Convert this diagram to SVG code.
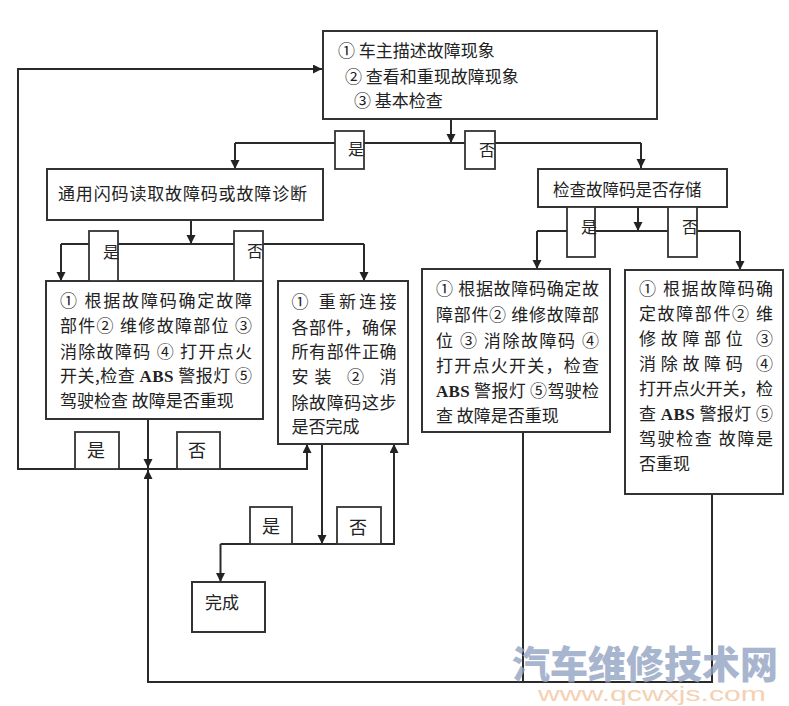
<svg xmlns="http://www.w3.org/2000/svg" width="789" height="706" viewBox="0 0 789 706">
<defs>
<marker id="arr" markerUnits="userSpaceOnUse" markerWidth="10" markerHeight="10" refX="9" refY="4.5" orient="auto">
<path d="M0,0 L9,4.5 L0,9 z" fill="#222"/>
</marker>
</defs>
<style>
.box{fill:#fff;stroke:#333;stroke-width:2}
.lbl{fill:#fff;stroke:#333;stroke-width:1.8}
.ln{fill:none;stroke:#2a2a2a;stroke-width:2}
.arw{fill:none;stroke:#2a2a2a;stroke-width:2;marker-end:url(#arr)}
text{font-family:"Noto Sans CJK SC","Noto Sans",sans-serif;fill:#222}
.t{font-size:17px}
.s{font-size:16px;text-anchor:middle}
.m{font-size:18px;text-anchor:middle}
.abs{font-family:"Liberation Serif",serif;font-weight:bold}
</style>
<rect width="789" height="706" fill="#fff"/>

<g id="connectors">
<path class="arw" d="M451,119 V143"/>
<path class="ln" d="M235,143 H641"/>
<path class="arw" d="M235,143 V169"/>
<path class="arw" d="M641,143 V168"/>
<path class="arw" d="M191,220 V244"/>
<path class="ln" d="M61,244 H364"/>
<path class="arw" d="M61,244 V281"/>
<path class="arw" d="M364,244 V281"/>
<path class="arw" d="M638,207 V231"/>
<path class="ln" d="M537,231 H740"/>
<path class="arw" d="M537,231 V269"/>
<path class="arw" d="M740,231 V270"/>
<path class="arw" d="M148,419 V468"/>
<path class="arw" d="M148,469 H18 V69 H322"/>
<path class="arw" d="M148,469 H307 V444"/>
<path class="arw" d="M523,432 V682 H148 V470"/>
<path class="ln" d="M712,494 V682 H523"/>
<path class="arw" d="M322,444 V544"/>
<path class="arw" d="M220.5,544 H394 V444"/>
<path class="arw" d="M220.5,544 V582"/>
</g>

<g id="n_start">
<rect class="box" x="323" y="31" width="334" height="88"/>
<text class="t" x="338" y="56.5">① 车主描述故障现象</text>
<text class="t" x="345" y="82.5">② 查看和重现故障现象</text>
<text class="t" x="354" y="106.5">③ 基本检查</text>
</g>

<g id="n_read">
<rect class="box" x="47" y="169" width="276" height="51"/>
<text class="t" x="58" y="199.5" textLength="249" lengthAdjust="spacing">通用闪码读取故障码或故障诊断</text>
</g>

<g id="n_check">
<rect class="box" x="538" y="169" width="189" height="38"/>
<text x="553" y="195.5" style="font-size:16.5px">检查故障码是否存储</text>
</g>

<g id="n_a">
<rect class="box" x="46" y="281" width="217" height="138"/>
<text class="t" x="60" y="306.5" textLength="192" lengthAdjust="spacing">① 根据故障码确定故障</text>
<text class="t" x="60" y="331.5" textLength="192" lengthAdjust="spacing">部件② 维修故障部位 ③</text>
<text class="t" x="60" y="357.5" textLength="192" lengthAdjust="spacing">消除故障码 ④ 打开点火</text>
<text class="t" x="60" y="381.5" textLength="192" lengthAdjust="spacing">开关,检查 <tspan class="abs">ABS</tspan> 警报灯 ⑤</text>
<text class="t" x="60" y="406.5">驾驶检查 故障是否重现</text>
</g>

<g id="n_b">
<rect class="box" x="278" y="281" width="130" height="163"/>
<text class="t" x="291.5" y="308" textLength="105" lengthAdjust="spacing">① 重新连接</text>
<text class="t" x="291.5" y="333.5" textLength="105" lengthAdjust="spacing">各部件，确保</text>
<text class="t" x="291.5" y="358" textLength="105" lengthAdjust="spacing">所有部件正确</text>
<text class="t" x="291.5" y="383" textLength="105" lengthAdjust="spacing">安装 ② 消</text>
<text class="t" x="291.5" y="408.5" textLength="105" lengthAdjust="spacing">除故障码这步</text>
<text class="t" x="291.5" y="433">是否完成</text>
</g>

<g id="n_c">
<rect class="box" x="422" y="269" width="188" height="163"/>
<text class="t" x="436" y="294.5" textLength="163" lengthAdjust="spacing">① 根据故障码确定故</text>
<text class="t" x="436" y="320.5" textLength="163" lengthAdjust="spacing">障部件② 维修故障部</text>
<text class="t" x="436" y="347" textLength="163" lengthAdjust="spacing">位 ③ 消除故障码 ④</text>
<text class="t" x="436" y="372" textLength="163" lengthAdjust="spacing">打开点火开关，检查</text>
<text class="t" x="436" y="396.5" textLength="163" lengthAdjust="spacing"><tspan class="abs">ABS</tspan> 警报灯 ⑤驾驶检</text>
<text class="t" x="436" y="421.5">查 故障是否重现</text>
</g>

<g id="n_d">
<rect class="box" x="625" y="270" width="158" height="224"/>
<text class="t" x="639" y="294.5" textLength="134" lengthAdjust="spacing">① 根据故障码确</text>
<text class="t" x="639" y="320" textLength="134" lengthAdjust="spacing">定故障部件② 维</text>
<text class="t" x="639" y="345" textLength="134" lengthAdjust="spacing">修故障部位 ③</text>
<text class="t" x="639" y="370" textLength="134" lengthAdjust="spacing">消除故障码 ④</text>
<text class="t" x="639" y="395" textLength="134" lengthAdjust="spacing">打开点火开关，检</text>
<text class="t" x="639" y="419.5" textLength="134" lengthAdjust="spacing">查 <tspan class="abs">ABS</tspan> 警报灯 ⑤</text>
<text class="t" x="639" y="444.5" textLength="134" lengthAdjust="spacing">驾驶检查 故障是</text>
<text class="t" x="639" y="469.5">否重现</text>
</g>

<g id="n_done">
<rect class="box" x="192" y="582" width="73" height="50"/>
<text class="t" x="205" y="608.5">完成</text>
</g>

<g id="labels">
<rect class="lbl" x="335" y="131" width="29" height="38"/>
<text class="s" x="356" y="155">是</text>
<rect class="lbl" x="465" y="131" width="30" height="38"/>
<text class="s" x="487" y="156">否</text>
<rect class="lbl" x="89" y="231" width="29" height="50"/>
<text class="s" x="111" y="258">是</text>
<rect class="lbl" x="234" y="231" width="29" height="50"/>
<text class="s" x="255" y="257">否</text>
<rect class="lbl" x="567" y="207" width="28" height="50"/>
<text class="s" x="589" y="233">是</text>
<rect class="lbl" x="668" y="207" width="29" height="50"/>
<text class="s" x="690" y="233">否</text>
<rect class="lbl" x="75" y="432" width="44" height="37"/>
<text class="m" x="96" y="456.5">是</text>
<rect class="lbl" x="177" y="432" width="43" height="37"/>
<text class="m" x="197" y="457">否</text>
<rect class="lbl" x="250" y="507" width="42" height="37"/>
<text class="m" x="271" y="532.5">是</text>
<rect class="lbl" x="337" y="507" width="44" height="37"/>
<text class="m" x="358" y="533.5">否</text>
</g>

<g id="watermark" opacity="0.8">
<text x="512" y="678" style="font-size:38px;font-weight:900;fill:#93a3c3">汽车维修技术网</text>
<text x="538" y="701" textLength="228" lengthAdjust="spacingAndGlyphs" style="font-family:'Liberation Sans',sans-serif;font-size:20px;fill:#f2c6a0">www.qcwxjs.com</text>
</g>
</svg>
